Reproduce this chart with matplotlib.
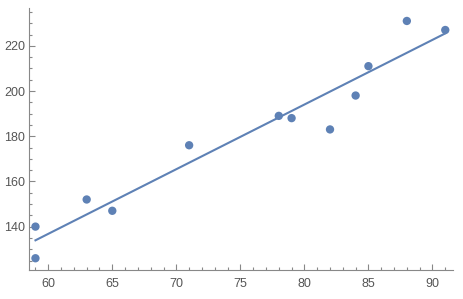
import numpy as np
from matplotlib import pyplot as plt
from matplotlib.ticker import MultipleLocator

# dados
x = np.array([59, 59, 63, 65, 71, 78, 79, 82, 84, 85, 88, 91])
y = np.array([126, 140, 152, 147, 176, 189, 188, 183, 198, 211, 231, 227])

cor = '#5E81B5'
cinza = '#888888'

# reta de ajuste (mínimos quadrados)
a, b = np.polyfit(x, y, 1)
xs = np.array([x.min(), x.max()])

plt.rcParams['font.family'] = ['Liberation Sans', 'DejaVu Sans']
fig = plt.figure(figsize=(4.63, 2.99), dpi=100)
ax = fig.add_axes([0.0633, 0.097, 0.915, 0.876])

ax.plot(xs, a * xs + b, color=cor, lw=1.5)
ax.scatter(x, y, s=36, color=cor, zorder=3, edgecolors='none')

ax.set_xlim(58.52, 91.6)
ax.set_ylim(120.8, 236.7)
ax.xaxis.set_major_locator(MultipleLocator(5))
ax.xaxis.set_minor_locator(MultipleLocator(1))
ax.yaxis.set_major_locator(MultipleLocator(20))
ax.yaxis.set_minor_locator(MultipleLocator(5))

for s in ['top', 'right']:
    ax.spines[s].set_visible(False)
for s in ['left', 'bottom']:
    ax.spines[s].set_color(cinza)
    ax.spines[s].set_linewidth(0.8)

ax.tick_params(which='both', direction='in', color=cinza, width=0.8)
ax.tick_params(which='major', length=4, labelsize=9, labelcolor='#555555')
ax.tick_params(which='minor', length=2.5)
ax.tick_params(axis='x', which='major', pad=6)
ax.tick_params(axis='y', which='major', pad=3)

fig.savefig('out.png', dpi=100)
